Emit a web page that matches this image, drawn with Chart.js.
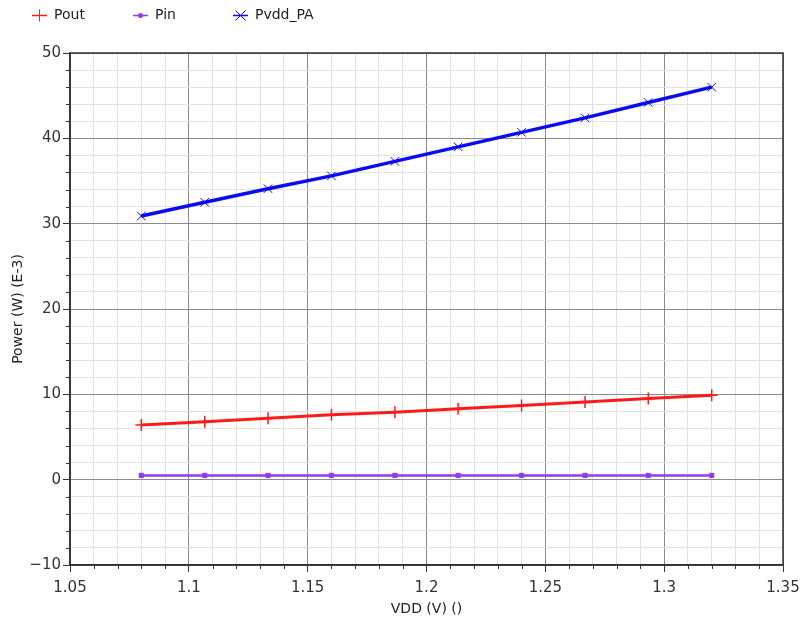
<!DOCTYPE html>
<html>
<head>
<meta charset="utf-8">
<script src="https://cdn.jsdelivr.net/npm/chart.js@4.4.1/dist/chart.umd.min.js"></script>
<style>
  html, body { margin: 0; padding: 0; background: #fff; }
  #wrap { width: 801px; height: 622px; }
</style>
</head>
<body>
<div id="wrap"><canvas id="powerChart"></canvas></div>
<script>
// Data
const vdd = [1.08, 1.1067, 1.1333, 1.16, 1.1867, 1.2133, 1.24, 1.2667, 1.2933, 1.32];
const pout = [6.4, 6.8, 7.2, 7.6, 7.9, 8.3, 8.7, 9.1, 9.5, 9.9];
const pin = [0.5, 0.5, 0.5, 0.5, 0.5, 0.5, 0.5, 0.5, 0.5, 0.5];
const pvdd = [30.9, 32.5, 34.1, 35.6, 37.3, 39.0, 40.7, 42.4, 44.2, 46.0];
const seriesNames = ['Pout', 'Pin', 'Pvdd_PA'];
const seriesColors = ['#ff1a1a', '#8f3cf0', '#0a0af5'];

function toPoints(ys) {
    return vdd.map((x, i) => ({ x: x, y: ys[i] }));
}

function isMajorX(v) {
    return Math.round(v * 100) % 5 === 0;
}
function isMajorY(v) {
    return Math.round(v) % 10 === 0;
}

const fontName = '"DejaVu Sans", sans-serif';

// Garis tepi atas/kanan dan tick minor
const framePlugin = {
    id: 'frame',
    afterDraw(chart) {
        const c = chart.ctx;
        const a = chart.chartArea;
        c.save();
        c.strokeStyle = '#333';
        c.lineWidth = 1.5;
        c.strokeRect(a.left, a.top, a.right - a.left, a.bottom - a.top);
        c.lineWidth = 1;
        const xs = chart.scales.x;
        xs.ticks.forEach((t, i) => {
            if (!isMajorX(t.value)) {
                const px = Math.round(xs.getPixelForTick(i)) + 0.5;
                c.beginPath();
                c.moveTo(px, a.bottom);
                c.lineTo(px, a.bottom + 4);
                c.stroke();
            }
        });
        const ys = chart.scales.y;
        ys.ticks.forEach((t, i) => {
            if (!isMajorY(t.value)) {
                const py = Math.round(ys.getPixelForTick(i)) + 0.5;
                c.beginPath();
                c.moveTo(a.left - 4, py);
                c.lineTo(a.left, py);
                c.stroke();
            }
        });
        c.restore();
    }
};

// Legenda di kiri atas
const legendPlugin = {
    id: 'topLegend',
    afterDraw(chart) {
        const c = chart.ctx;
        const starts = [32, 133, 233];
        const y = 15.5;
        c.save();
        c.font = '14px ' + fontName;
        c.textBaseline = 'middle';
        seriesNames.forEach((name, i) => {
            const x0 = starts[i];
            c.strokeStyle = seriesColors[i];
            c.fillStyle = seriesColors[i];
            c.lineWidth = 1.5;
            c.beginPath();
            c.moveTo(x0, y);
            c.lineTo(x0 + 15, y);
            c.stroke();
            const cx = x0 + 7.5;
            c.lineWidth = 1;
            if (i === 0) {
                c.beginPath();
                c.moveTo(cx, y - 6);
                c.lineTo(cx, y + 6);
                c.stroke();
            } else if (i === 1) {
                c.beginPath();
                c.arc(cx, y, 2.5, 0, Math.PI * 2);
                c.fill();
            } else {
                c.beginPath();
                c.moveTo(cx - 5, y - 5);
                c.lineTo(cx + 5, y + 5);
                c.moveTo(cx - 5, y + 5);
                c.lineTo(cx + 5, y - 5);
                c.stroke();
            }
            c.fillStyle = '#222';
            c.fillText(name, x0 + 22, y);
        });
        c.restore();
    }
};

const ctx = document.getElementById('powerChart').getContext('2d');

new Chart(ctx, {
    type: 'line',
    data: {
        datasets: [
            {
                label: seriesNames[0],
                data: toPoints(pout),
                borderColor: seriesColors[0],
                backgroundColor: seriesColors[0],
                borderWidth: 3,
                pointStyle: 'cross',
                pointRadius: 6,
                pointBorderWidth: 1.5,
                tension: 0
            },
            {
                label: seriesNames[1],
                data: toPoints(pin),
                borderColor: seriesColors[1],
                backgroundColor: seriesColors[1],
                borderWidth: 2.5,
                pointStyle: 'rect',
                pointRadius: 3,
                pointBorderWidth: 1,
                tension: 0
            },
            {
                label: seriesNames[2],
                data: toPoints(pvdd),
                borderColor: seriesColors[2],
                backgroundColor: seriesColors[2],
                borderWidth: 3.5,
                pointStyle: 'crossRot',
                pointRadius: 6,
                pointBorderWidth: 1,
                tension: 0
            }
        ]
    },
    options: {
        responsive: true,
        maintainAspectRatio: false,
        animation: false,
        layout: {
            padding: { top: 53, right: 18, left: 0, bottom: 0 }
        },
        plugins: {
            legend: { display: false },
            tooltip: { enabled: false }
        },
        scales: {
            x: {
                type: 'linear',
                min: 1.05,
                max: 1.35,
                afterFit(scale) {
                    scale.height = 57;
                    scale.paddingLeft = 0;
                    scale.paddingRight = 0;
                },
                ticks: {
                    stepSize: 0.01,
                    autoSkip: false,
                    maxRotation: 0,
                    color: '#333',
                    padding: 7,
                    font: { family: fontName, size: 15 },
                    callback: (v) => isMajorX(v) ? String(Number(v.toFixed(2))) : ''
                },
                grid: {
                    color: (c) => isMajorX(c.tick.value) ? '#8a8a8a' : '#e2e2e2',
                    tickColor: (c) => isMajorX(c.tick.value) ? '#333' : 'rgba(0,0,0,0)',
                    tickLength: 7
                },
                border: { color: '#333', width: 1.5 },
                title: {
                    display: true,
                    text: 'VDD (V) ()',
                    color: '#222',
                    font: { family: fontName, size: 14 },
                    padding: { top: 0, bottom: 4 }
                }
            },
            y: {
                min: -10,
                max: 50,
                afterFit(scale) { scale.width = 70; },
                ticks: {
                    stepSize: 2,
                    autoSkip: false,
                    color: '#333',
                    padding: 2,
                    font: { family: fontName, size: 15 },
                    callback: (v) => isMajorY(v) ? String(Math.round(v)).replace('-', '\u2212') : ''
                },
                grid: {
                    color: (c) => isMajorY(c.tick.value) ? '#8a8a8a' : '#e2e2e2',
                    tickColor: (c) => isMajorY(c.tick.value) ? '#333' : 'rgba(0,0,0,0)',
                    tickLength: 7
                },
                border: { color: '#333', width: 1.5 },
                title: {
                    display: true,
                    text: 'Power (W) (E-3)',
                    color: '#222',
                    font: { family: fontName, size: 14 },
                    padding: { top: 10, bottom: 0 }
                }
            }
        }
    },
    plugins: [framePlugin, legendPlugin]
});
</script>
</body>
</html>
